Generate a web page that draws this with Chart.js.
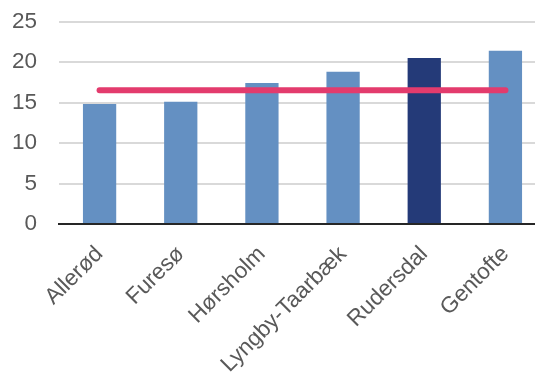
<!DOCTYPE html>
<html>
<head>
<meta charset="utf-8">
<script src="https://cdn.jsdelivr.net/npm/chart.js@4"></script>
<style>
  html, body { margin: 0; padding: 0; background: #fff; overflow: hidden; }
  #wrap { position: absolute; left: 0; top: 0; width: 546px; height: 381px; }
</style>
</head>
<body>
<div id="wrap"><canvas id="chart" width="546" height="381"></canvas></div>
<script>
// Data
const categories = ['Allerød', 'Furesø', 'Hørsholm', 'Lyngby-Taarbæk', 'Rudersdal', 'Gentofte'];
const values = [14.8, 15.1, 17.4, 18.8, 20.5, 21.4];
const average = [16.5, 16.5, 16.5, 16.5, 16.5, 16.5];
const yTicks = [0, 5, 10, 15, 20, 25];
const highlight = 'Rudersdal';

const barColors = categories.map(c => c === highlight ? '#243A78' : '#6490C2');
const labelFont = { family: 'Liberation Sans, Arial, sans-serif', size: 22.5 };

const ctx = document.getElementById('chart').getContext('2d');
const chart = new Chart(ctx, {
    type: 'bar',
    data: {
        labels: categories,
        datasets: [{
            type: 'line',
            data: average,
            borderColor: '#E33B6D',
            borderWidth: 6,
            borderCapStyle: 'round',
            pointRadius: 0,
            fill: false,
            order: 0
        }, {
            type: 'bar',
            data: values,
            backgroundColor: barColors,
            categoryPercentage: 1,
            barPercentage: 0.41,
            order: 1
        }]
    },
    options: {
        responsive: false,
        animation: false,
        devicePixelRatio: 1,
        layout: { padding: { top: 21.5, left: 0, right: 0, bottom: 0 } },
        plugins: {
            legend: { display: false },
            tooltip: { enabled: false }
        },
        scales: {
            x: {
                grid: { display: false, drawTicks: false },
                border: { display: true, color: '#262626', width: 2 },
                ticks: {
                    autoSkip: false,
                    minRotation: 45,
                    maxRotation: 45,
                    padding: 17,
                    color: '#595959',
                    font: labelFont
                },
                afterFit: scale => {
                    scale.height = 157;
                    scale.paddingLeft = 0;
                    scale.paddingRight = 0;
                }
            },
            y: {
                min: 0,
                max: 25,
                afterBuildTicks: scale => { scale.ticks = yTicks.map(v => ({ value: v })); },
                grid: { color: '#D9D9D9', lineWidth: 2, drawTicks: false },
                border: { display: false },
                ticks: {
                    padding: 22,
                    color: '#595959',
                    font: labelFont
                },
                afterFit: scale => {
                    scale.width = 59;
                    scale.paddingTop = 0;
                    scale.paddingBottom = 0;
                }
            }
        }
    }
});
</script>
</body>
</html>
